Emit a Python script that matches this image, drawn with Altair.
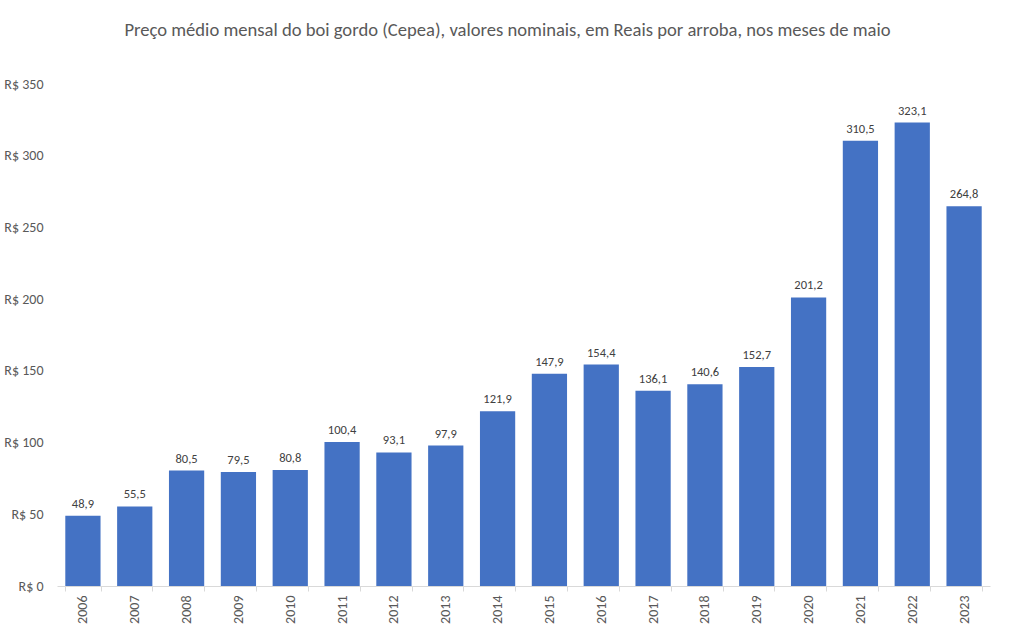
import altair as alt
import pandas as pd

years = [str(y) for y in range(2006, 2024)]
values = [48.9, 55.5, 80.5, 79.5, 80.8, 100.4, 93.1, 97.9, 121.9, 147.9,
          154.4, 136.1, 140.6, 152.7, 201.2, 310.5, 323.1, 264.8]
labels = [f"{v:.1f}".replace(".", ",") for v in values]

df = pd.DataFrame({"ano": years, "valor": values, "rotulo": labels})

FONT = "Liberation Sans Narrow, Carlito, Open Sans, sans-serif"

x = alt.X("ano:N", title=None, sort=years,
          scale=alt.Scale(paddingInner=0.32, paddingOuter=0.16),
          axis=alt.Axis(labelAngle=-90, labelFont=FONT, labelFontSize=14,
                        labelColor="#595959", domainColor="#d9d9d9",
                        tickColor="#d9d9d9", tickBand="extent", tickSize=5,
                        labelPadding=4, labelBaseline="middle"))
y = alt.Y("valor:Q", title=None,
          scale=alt.Scale(domain=[0, 350], nice=False),
          axis=alt.Axis(values=[0, 50, 100, 150, 200, 250, 300, 350],
                        labelExpr="'R$ ' + datum.value", grid=False,
                        domain=False, ticks=False, labelFont=FONT,
                        labelFontSize=14, labelColor="#595959",
                        labelPadding=14))

bars = alt.Chart(df).mark_bar(color="#4472C4").encode(x=x, y=y)
text = alt.Chart(df).mark_text(dy=-12, font=FONT, fontSize=12.5,
                               color="#404040").encode(x=x, y=y, text="rotulo:N")

chart = (bars + text).properties(
    width=933, height=502,
    background="white",
    title=alt.TitleParams(
        "Preço médio mensal do boi gordo (Cepea), valores nominais, em Reais por arroba, nos meses de maio",
        font=FONT, fontSize=18.6, fontWeight="normal", color="#595959",
        anchor="middle", offset=37, dx=-16),
    autosize=alt.AutoSizeParams(type="none"),
    padding={"left": 57, "top": 84, "right": 22, "bottom": 44},
).configure_view(strokeWidth=0, stroke="transparent")

chart.save("out.html", embed_options={"renderer": "svg", "actions": False})
